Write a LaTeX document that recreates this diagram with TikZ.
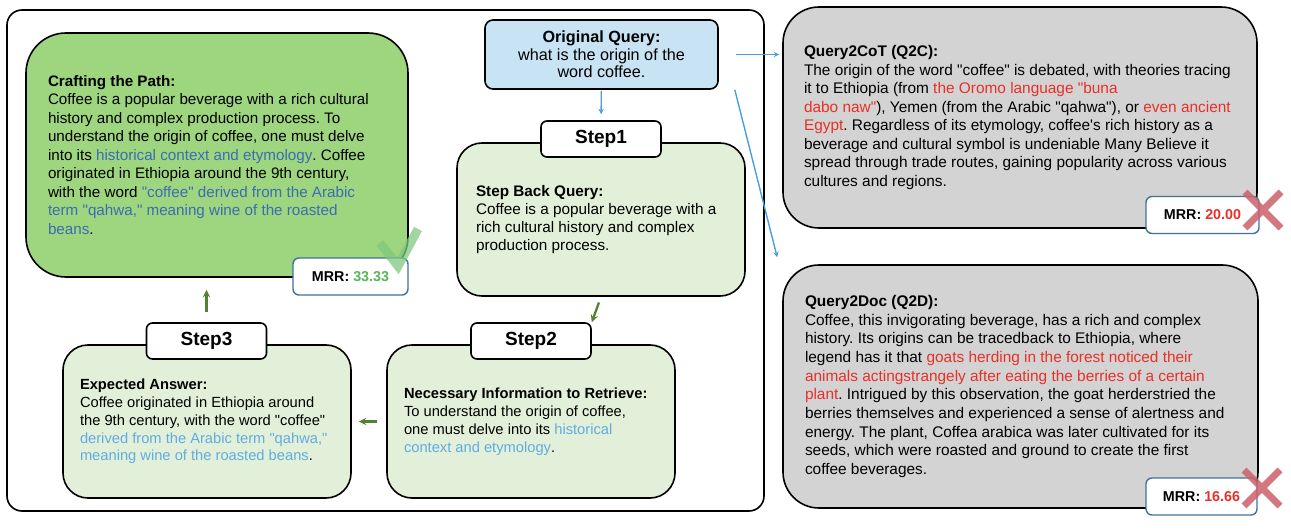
\documentclass[tikz,border=0pt]{standalone}
\usepackage{fontspec}
\setmainfont{Liberation Sans}[Ligatures=TeXOff]
\usepackage{xcolor}
\usetikzlibrary{arrows.meta, positioning, calc}

\definecolor{pathgreen}{RGB}{158,213,127}
\definecolor{stepgreen}{RGB}{226,240,217}
\definecolor{queryblue}{RGB}{200,227,244}
\definecolor{boxgray}{RGB}{211,211,211}
\definecolor{darkblue}{RGB}{60,108,178}
\definecolor{lightblue}{RGB}{96,172,226}
\definecolor{txtred}{RGB}{232,48,40}
\definecolor{mrrgreen}{RGB}{88,182,88}
\definecolor{mrrborder}{RGB}{65,113,156}
\definecolor{arrowblue}{RGB}{74,159,216}
\definecolor{arrowgreen}{RGB}{84,130,53}
\definecolor{checkgreen}{RGB}{128,200,128}
\definecolor{crossred}{RGB}{204,96,106}

\newcommand{\dblue}[1]{\textcolor{darkblue}{#1}}
\newcommand{\lblue}[1]{\textcolor{lightblue}{#1}}
\newcommand{\rtxt}[1]{\textcolor{txtred}{#1}}

\begin{document}
\frenchspacing
\begin{tikzpicture}[x=1pt, y=-1pt, line width=1.6pt,
  font=\fontsize{15.2}{18.5}\selectfont,
  card/.style={draw},
  stepcard/.style={card, fill=stepgreen, rounded corners=25pt, minimum width=288pt, minimum height=153pt},
  body/.style={anchor=west, align=left, inner sep=0pt},
  steplabel/.style={draw, fill=white, rounded corners=6pt, minimum width=120pt, minimum height=36pt, font=\fontsize{19}{22}\selectfont\bfseries},
  mrrbox/.style={draw=mrrborder, fill=white, rounded corners=6pt, line width=1.4pt, minimum height=37pt, font=\fontsize{14.3}{17}\selectfont\bfseries},
  bluearrow/.style={->, >=stealth, arrowblue, line width=1.4pt},
  greenarrow/.style={->, >=stealth, arrowgreen, line width=2.3pt}]
\useasboundingbox (0,0) rectangle (1291,532);

\draw[rounded corners=15pt] (7,10) rectangle (764,511);

\node[card, fill=pathgreen, rounded corners=40pt, minimum width=382pt, minimum height=244pt] (path) at (217,155) {};
\node[body] (pathtxt) at ([xshift=22pt]path.west)
  {\textbf{Crafting the Path:}\\ Coffee is a popular beverage with a rich cultural\\ history and complex production process. To\\ understand the origin of coffee, one must delve\\ into its \dblue{historical context and etymology}. Coffee\\ originated in Ethiopia around the 9th century,\\ with the word \dblue{"coffee" derived from the Arabic}\\ \dblue{term "qahwa," meaning wine of the roasted}\\ \dblue{beans}.};

\node[draw, fill=queryblue, rounded corners=8pt, minimum width=233pt, minimum height=69pt, align=center, font=\fontsize{16.2}{17.6}\selectfont] (query) at (601.5,54.5)
  {\textbf{Original Query:}\\ what is the origin of the\\ word coffee.};

\node[stepcard] (step1) at (601,219.5) {};
\node[body, font=\fontsize{15.3}{18}\selectfont] (step1txt) at ([xshift=19pt]step1.west)
  {\textbf{Step Back Query:}\\ Coffee is a popular beverage with a\\ rich cultural history and complex\\ production process.};
\node[stepcard] (step2) at (531,421.5) {};
\node[body, font=\fontsize{14.7}{18}\selectfont] (step2txt) at ([xshift=17pt]step2.west)
  {\textbf{Necessary Information to Retrieve:}\\ To understand the origin of coffee,\\ one must delve into its \lblue{historical}\\ \lblue{context and etymology}.};
\node[stepcard] (step3) at (207,421.5) {};
\node[body, font=\fontsize{14.7}{17.7}\selectfont] (step3txt) at ([xshift=17pt]step3.west)
  {\textbf{Expected Answer:}\\ Coffee originated in Ethiopia around\\ the 9th century, with the word "coffee"\\ \lblue{derived from the Arabic term "qahwa,"}\\ \lblue{meaning wine of the roasted beans}.};

\node[steplabel] (lbl1) at (601,139) {Step1};
\node[steplabel] (lbl2) at (531,341) {Step2};
\node[steplabel] (lbl3) at (206.5,341) {Step3};

\node[card, fill=boxgray, rounded corners=36pt, minimum width=474pt, minimum height=221pt] (q2c) at (1020,117.5) {};
\node[body, font=\fontsize{15.4}{18.5}\selectfont] (q2ctxt) at ([xshift=21pt]q2c.west)
  {\textbf{Query2CoT (Q2C):}\\ The origin of the word "coffee" is debated, with theories tracing\\ it to Ethiopia (from \rtxt{the Oromo language "buna}\\ \rtxt{dabo naw"}), Yemen (from the Arabic "qahwa"), or \rtxt{even ancient}\\ \rtxt{Egypt}. Regardless of its etymology, coffee's rich history as a\\ beverage and cultural symbol is undeniable Many Believe it\\ spread through trade routes, gaining popularity across various\\ cultures and regions.};
\node[card, fill=boxgray, rounded corners=36pt, minimum width=475pt, minimum height=243pt] (q2d) at (1020.5,386.5) {};
\node[body, font=\fontsize{15.4}{18.7}\selectfont] (q2dtxt) at ([xshift=22pt]q2d.west)
  {\textbf{Query2Doc (Q2D):}\\ Coffee, this invigorating beverage, has a rich and complex\\ history. Its origins can be tracedback to Ethiopia, where\\ legend has it that \rtxt{goats herding in the forest noticed their}\\ \rtxt{animals actingstrangely after eating the berries of a certain}\\ \rtxt{plant}. Intrigued by this observation, the goat herderstried the\\ berries themselves and experienced a sense of alertness and\\ energy. The plant, Coffea arabica was later cultivated for its\\ seeds, which were roasted and ground to create the first\\ coffee beverages.};

\node[mrrbox, minimum width=115pt] (mrr1) at (350.5,276.5) {MRR: \textcolor{mrrgreen}{33.33}};
\node[mrrbox, minimum width=113pt] (mrr2) at (1202.5,215) {MRR: \textcolor{txtred}{20.00}};
\node[mrrbox, minimum width=111pt] (mrr3) at (1201.5,496.5) {MRR: \textcolor{txtred}{16.66}};

% marks
\draw[checkgreen, opacity=0.75, line width=9pt] (380,243) -- (398,266) -- (418,229);
\foreach \cx/\cy in {1263/210, 1262/488} {
  \draw[crossred, opacity=0.85, line width=7pt] (\cx-18,\cy-18) -- (\cx+18,\cy+18) (\cx-18,\cy+18) -- (\cx+18,\cy-18);
}

\draw[bluearrow, shorten <=1pt, shorten >=6pt] (query) -- (lbl1);
\draw[bluearrow, shorten <=17pt, shorten >=3pt] (query.east) -- (query.east -| q2c.west);
\draw[bluearrow] ([xshift=16pt]query.south east) -- ([xshift=-5pt,yshift=7pt]q2d.north west);
\draw[greenarrow, shorten <=6pt] (step1.south) -- (lbl2.north east);
\draw[greenarrow, shorten <=9pt, shorten >=7pt] (step2.west) -- (step3.east);
\draw[greenarrow, shorten <=10pt, shorten >=12pt] (lbl3.north) -- (lbl3.north |- path.south);
\end{tikzpicture}
\end{document}
